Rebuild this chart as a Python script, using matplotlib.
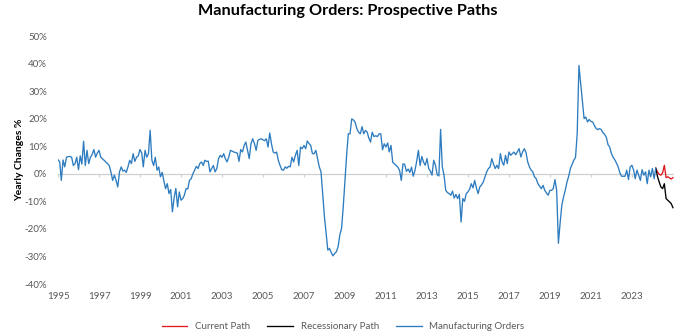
"""Manufacturing orders yearly change with two prospective paths for 2024."""

import matplotlib
matplotlib.use('Agg')
import matplotlib.pyplot as plt
import matplotlib.dates as mdates
import numpy as np
import pandas as pd

# yearly changes in %, monthly, one row per year
ORDERS_BY_YEAR = {
    1995: [5.1, 4.3, -2.4, 5.0, 2.5, 6.0, 6.2, 6.3, 6.0, 3.0, 3.7, 6.0],
    1996: [1.5, 6.5, 3.5, 11.8, 3.0, 8.5, 3.7, 6.0, 7.0, 8.8, 6.0, 7.5],
    1997: [8.5, 6.0, 5.5, 4.9, 4.3, 3.7, 3.0, 0.7, -2.4, -0.5, -2.4, -4.8],
    1998: [0.7, 2.5, 1.0, 1.3, 0.5, 2.5, 4.9, 3.7, 7.3, 4.5, 6.0, 6.5],
    1999: [8.8, 7.5, 2.5, 8.5, 6.0, 7.3, 15.8, 4.9, 3.0, 6.0, 1.3, 2.5],
    2000: [-1.1, 0.5, -2.5, -5.4, -3.6, -7.2, -5.7, -13.8, -8.6, -5.3, -12.0, -6.6],
    2001: [-9.6, -9.0, -7.8, -5.4, -5.5, -2.4, -1.8, 0.0, 1.3, 2.7, 1.9, 3.7],
    2002: [4.3, 3.0, 4.9, 4.5, 4.6, 0.7, 1.9, 3.0, 0.7, 1.9, 5.5, 6.7],
    2003: [6.0, 7.3, 5.5, 4.3, 6.0, 8.5, 8.2, 7.9, 7.7, 7.5, 4.5, 8.8],
    2004: [7.9, 10.3, 11.5, 8.5, 5.5, 10.9, 12.7, 11.0, 8.5, 12.1, 12.5, 12.7],
    2005: [12.3, 12.0, 12.7, 9.7, 14.8, 10.9, 7.9, 7.5, 7.9, 4.9, 3.0, 1.5],
    2006: [1.3, 2.5, 2.0, 2.7, 2.5, 6.0, 4.3, 6.7, 8.5, 3.0, 9.7, 9.1],
    2007: [10.3, 9.1, 11.9, 11.0, 10.3, 7.3, 7.3, 8.5, 5.5, 2.5, 0.7, -7.2],
    2008: [-15.6, -21.7, -27.7, -27.1, -28.6, -29.8, -28.9, -28.3, -26.4, -22.2, -19.8, -12.0],
    2009: [-2.4, 7.3, 14.5, 14.5, 19.9, 19.5, 18.7, 16.3, 15.1, 14.5, 17.1, 14.5],
    2010: [15.7, 15.1, 13.0, 11.5, 15.1, 13.5, 13.8, 13.5, 14.5, 14.5, 8.7, 10.9],
    2011: [9.7, 11.2, 7.9, 10.3, 4.2, 3.6, 3.0, 2.4, 1.2, -2.4, 3.6, 3.4],
    2012: [0.9, 1.7, 0.5, 2.4, -0.9, 1.2, 4.5, 8.5, 3.0, 6.3, 4.2, 3.1],
    2013: [5.5, 1.9, 1.0, -0.5, 4.9, 3.1, -0.3, -0.8, 16.1, 2.5, -0.5, -6.0],
    2014: [-6.8, -7.2, -7.8, -6.3, -8.8, -7.5, -9.0, -7.5, -17.5, -9.0, -10.0, -7.2],
    2015: [-6.6, -5.5, -3.6, -5.1, -2.4, -5.1, -7.2, -4.8, -4.0, -3.0, -1.1, 0.7],
    2016: [1.9, 2.5, 5.5, 3.5, 1.9, 3.1, 1.9, 7.3, 4.3, 3.1, 6.7, 3.7],
    2017: [7.9, 6.7, 7.3, 7.9, 6.9, 8.0, 9.1, 6.1, 7.9, 9.1, 7.7, 4.3],
    2018: [2.5, 1.3, 0.7, -1.1, -1.8, -3.6, -4.5, -5.4, -4.2, -6.0, -7.0, -7.8],
    2019: [-6.0, -6.0, -5.4, -2.1, -6.0, -25.2, -18.0, -11.4, -8.4, -6.0, -3.0, -0.9],
    2020: [1.9, 3.5, 4.9, 5.9, 14.5, 39.3, 33.0, 26.5, 20.0, 20.6, 18.8, 19.7],
    2021: [19.0, 18.8, 17.6, 16.5, 16.0, 16.4, 16.1, 15.0, 14.3, 13.3, 10.6, 9.7],
    2022: [7.3, 6.0, 5.1, 3.9, 2.5, 0.3, -0.9, -0.9, -0.9, 1.3, -2.1, 2.5],
    2023: [3.1, 1.3, -1.8, 1.3, -0.5, -2.4, 1.5, -0.5, 0.7, -3.6, 1.3, -1.1],
    2024: [1.9, -1.8, 2.0],
}
CURRENT_PATH = [2.0, 0.7, -0.2, -0.5, 0.3, 3.1, -1.4, -1.1, -1.5, -1.9, -1.4]
RECESSION_PATH = [2.0, -1.0, -3.0, -4.8, -5.4, -3.6, -9.0, -9.6, -10.2, -10.8, -12.3]
PATH_START = '2024-03'

BLUE = '#2e7cc0'
RED = '#e0191f'
GRAY_TXT = '#595959'


def main() -> None:
    orders = np.concatenate([np.array(v) for v in ORDERS_BY_YEAR.values()])
    dates = pd.date_range('1995-01', periods=len(orders), freq='MS')
    path_dates = pd.date_range(PATH_START, periods=len(CURRENT_PATH), freq='MS')

    plt.rcParams['font.family'] = ['Lato', 'DejaVu Sans']
    fig = plt.figure(figsize=(6.96, 3.36), dpi=100)
    ax = fig.add_axes([58 / 696, 1 - 284 / 336, 616 / 696, 248 / 336])

    ax.plot(path_dates, np.array(CURRENT_PATH) / 100, color=RED, lw=0.95, label='Current Path')
    ax.plot(path_dates, np.array(RECESSION_PATH) / 100, color='black', lw=0.95,
            label='Recessionary Path')
    ax.plot(dates, orders / 100, color=BLUE, lw=0.95, label='Manufacturing Orders')

    # zero line acting as the category axis, with small tick marks
    ax.axhline(0, color='#d0d0d0', lw=0.9, zorder=0)
    tick_years = pd.date_range('1995-01', '2023-01', freq='24MS')
    ax.vlines(tick_years, -0.011, 0, color='#d0d0d0', lw=0.9, zorder=0)

    ax.set_ylim(-0.40, 0.50)
    ax.set_yticks(np.arange(-0.40, 0.51, 0.10))
    ax.set_yticklabels([f'{v:.0f}%' for v in np.arange(-40, 51, 10)])
    ax.set_xlim(pd.Timestamp('1995-01-01'), pd.Timestamp('2025-01-20'))
    ax.set_xticks(tick_years)
    ax.xaxis.set_major_formatter(mdates.DateFormatter('%Y'))
    ax.tick_params(length=0, labelsize=7, labelcolor=GRAY_TXT)
    ax.tick_params(axis='x', pad=6)
    ax.tick_params(axis='y', pad=8)
    for s in ax.spines.values():
        s.set_visible(False)

    ax.set_ylabel('Yearly Changes %', fontsize=7.5, fontweight='bold', labelpad=0)
    fig.suptitle('Manufacturing Orders: Prospective Paths', fontsize=11.7,
                 fontweight='bold', y=0.988)

    fig.legend(loc='lower center', ncol=3, frameon=False, fontsize=7,
               bbox_to_anchor=(0.493, -0.012), handlelength=2.6, columnspacing=1.8,
               labelcolor=GRAY_TXT)

    fig.savefig('out.png', dpi=100)
    plt.close(fig)


if __name__ == '__main__':
    main()
